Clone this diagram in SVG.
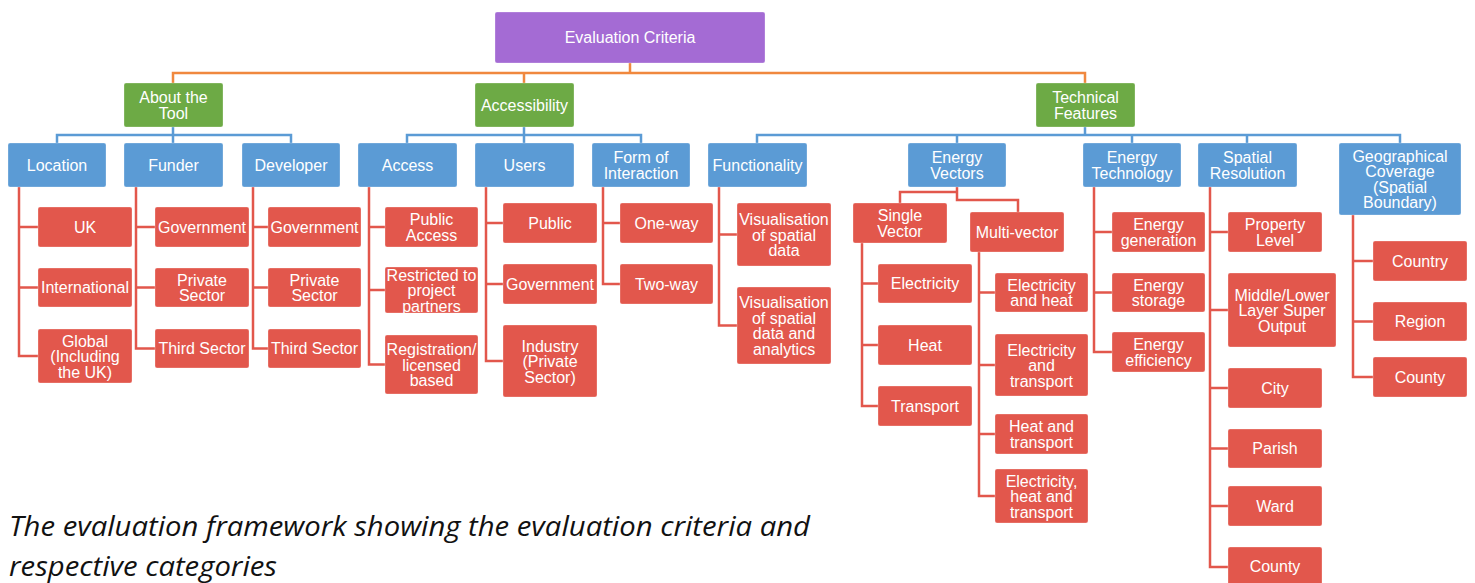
<svg xmlns="http://www.w3.org/2000/svg" width="1475" height="583" viewBox="0 0 1475 583">
  <style>
    .root { fill: #A46BD4; }
    .cat { fill: #6DAA45; }
    .sub { fill: #5B9BD5; }
    .leaf { fill: #E2574C; }
    .box { stroke-opacity: 0.35; stroke: #ffffff; stroke-width: 0.8; }
    .lbl { font-family: "Liberation Sans", Arial, sans-serif; font-size: 16px; fill: #ffffff; text-anchor: middle; dominant-baseline: central; }
    .c-top { fill: none; stroke: #F0883E; stroke-width: 2.5; }
    .c-mid { fill: none; stroke: #5B9BD5; stroke-width: 2.5; }
    .c-leaf { fill: none; stroke: #E2574C; stroke-width: 2.5; }
    .caption { font-family: "Open Sans", "Liberation Sans", sans-serif; font-style: italic; font-size: 27px; fill: #111111; }
  </style>

  <!-- connectors -->
  <g id="connectors">
    <path class="c-top" d="M630,63 V73 M173,83 V73 H1085 V83 M524,73 V83"/>
    <path class="c-mid" d="M173,127 V135 M57,143 V135 H291 V143 M173,135 V143"/>
    <path class="c-mid" d="M524,127 V135 M407,143 V135 H641 V143 M524,135 V143"/>
    <path class="c-mid" d="M1085,127 V135 M757,143 V135 H1400 V143 M957,135 V143 M1132,135 V143 M1247,135 V143"/>
    <!-- Energy Vectors split -->
    <path class="c-leaf" d="M957,187 V192 H900 V203 M957,192 V200 H1018 V212"/>
    <!-- Location -->
    <path class="c-leaf" d="M19,187 V356 H38 M19,227 H38 M19,287.5 H38"/>
    <!-- Funder -->
    <path class="c-leaf" d="M136,187 V348.5 H155 M136,227 H155 M136,287.5 H155"/>
    <!-- Developer -->
    <path class="c-leaf" d="M253,187 V348.5 H268 M253,227 H268 M253,287.5 H268"/>
    <!-- Access -->
    <path class="c-leaf" d="M369,187 V364.5 H385 M369,227 H385 M369,290 H385"/>
    <!-- Users -->
    <path class="c-leaf" d="M486,187 V361 H503 M486,223 H503 M486,284 H503"/>
    <!-- Form of Interaction -->
    <path class="c-leaf" d="M603,187 V284 H620 M603,223 H620"/>
    <!-- Functionality -->
    <path class="c-leaf" d="M719,187 V325.5 H737 M719,234.5 H737"/>
    <!-- Single Vector -->
    <path class="c-leaf" d="M862,243 V406 H878 M862,283.5 H878 M862,345 H878"/>
    <!-- Multi-vector -->
    <path class="c-leaf" d="M979,252 V496 H995 M979,292.5 H995 M979,365 H995 M979,434 H995"/>
    <!-- Energy Technology -->
    <path class="c-leaf" d="M1094,187 V352 H1112 M1094,232 H1112 M1094,292.5 H1112"/>
    <!-- Spatial Resolution -->
    <path class="c-leaf" d="M1210,187 V567 H1228 M1210,232 H1228 M1210,310 H1228 M1210,388 H1228 M1210,448.5 H1228 M1210,506 H1228"/>
    <!-- Geographical Coverage -->
    <path class="c-leaf" d="M1353,215 V377 H1373 M1353,261 H1373 M1353,321.5 H1373"/>
  </g>

  <!-- root -->
  <g id="evaluation-criteria">
    <rect class="root box" x="495" y="12" width="270" height="51" rx="2"/>
    <text class="lbl" x="630" y="37.5">Evaluation Criteria</text>
  </g>

  <!-- main categories -->
  <g id="about-the-tool">
    <rect class="cat box" x="124" y="83" width="99" height="44" rx="2"/>
    <text class="lbl"><tspan x="173.5" y="97.25">About the</tspan><tspan x="173.5" y="112.75">Tool</tspan></text>
  </g>
  <g id="accessibility">
    <rect class="cat box" x="475" y="83" width="99" height="44" rx="2"/>
    <text class="lbl" x="524.5" y="105">Accessibility</text>
  </g>
  <g id="technical-features">
    <rect class="cat box" x="1036" y="83" width="99" height="44" rx="2"/>
    <text class="lbl"><tspan x="1085.5" y="97.25">Technical</tspan><tspan x="1085.5" y="112.75">Features</tspan></text>
  </g>

  <!-- criteria -->
  <g id="location">
    <rect class="sub box" x="8" y="143" width="98" height="44" rx="2"/>
    <text class="lbl" x="57" y="165">Location</text>
  </g>
  <g id="funder">
    <rect class="sub box" x="124" y="143" width="99" height="44" rx="2"/>
    <text class="lbl" x="173.5" y="165">Funder</text>
  </g>
  <g id="developer">
    <rect class="sub box" x="242" y="143" width="98" height="44" rx="2"/>
    <text class="lbl" x="291" y="165">Developer</text>
  </g>
  <g id="access">
    <rect class="sub box" x="358" y="143" width="99" height="44" rx="2"/>
    <text class="lbl" x="407.5" y="165">Access</text>
  </g>
  <g id="users">
    <rect class="sub box" x="475" y="143" width="99" height="44" rx="2"/>
    <text class="lbl" x="524.5" y="165">Users</text>
  </g>
  <g id="form-of-interaction">
    <rect class="sub box" x="592" y="143" width="98" height="44" rx="2"/>
    <text class="lbl"><tspan x="641" y="157.25">Form of</tspan><tspan x="641" y="172.75">Interaction</tspan></text>
  </g>
  <g id="functionality">
    <rect class="sub box" x="708" y="143" width="99" height="44" rx="2"/>
    <text class="lbl" x="757.5" y="165">Functionality</text>
  </g>
  <g id="energy-vectors">
    <rect class="sub box" x="908" y="143" width="98" height="44" rx="2"/>
    <text class="lbl"><tspan x="957" y="157.25">Energy</tspan><tspan x="957" y="172.75">Vectors</tspan></text>
  </g>
  <g id="energy-technology">
    <rect class="sub box" x="1083" y="143" width="98" height="44" rx="2"/>
    <text class="lbl"><tspan x="1132" y="157.25">Energy</tspan><tspan x="1132" y="172.75">Technology</tspan></text>
  </g>
  <g id="spatial-resolution">
    <rect class="sub box" x="1198" y="143" width="99" height="44" rx="2"/>
    <text class="lbl"><tspan x="1247.5" y="157.25">Spatial</tspan><tspan x="1247.5" y="172.75">Resolution</tspan></text>
  </g>
  <g id="geographical-coverage">
    <rect class="sub box" x="1339" y="143" width="122" height="72" rx="2"/>
    <text class="lbl"><tspan x="1400" y="155.75">Geographical</tspan><tspan x="1400" y="171.25">Coverage</tspan><tspan x="1400" y="186.75">(Spatial</tspan><tspan x="1400" y="202.25">Boundary)</tspan></text>
  </g>

  <!-- Location categories -->
  <g id="loc-uk">
    <rect class="leaf box" x="38" y="207" width="94" height="40" rx="2"/>
    <text class="lbl" x="85" y="227">UK</text>
  </g>
  <g id="loc-international">
    <rect class="leaf box" x="38" y="268" width="94" height="39" rx="2"/>
    <text class="lbl" x="85" y="287.5">International</text>
  </g>
  <g id="loc-global">
    <rect class="leaf box" x="38" y="329" width="94" height="54" rx="2"/>
    <text class="lbl"><tspan x="85" y="340.5">Global</tspan><tspan x="85" y="356">(Including</tspan><tspan x="85" y="371.5">the UK)</tspan></text>
  </g>

  <!-- Funder categories -->
  <g id="fund-government">
    <rect class="leaf box" x="155" y="207" width="94" height="40" rx="2"/>
    <text class="lbl" x="202" y="227">Government</text>
  </g>
  <g id="fund-private">
    <rect class="leaf box" x="155" y="268" width="94" height="39" rx="2"/>
    <text class="lbl"><tspan x="202" y="279.75">Private</tspan><tspan x="202" y="295.25">Sector</tspan></text>
  </g>
  <g id="fund-third">
    <rect class="leaf box" x="155" y="329" width="94" height="39" rx="2"/>
    <text class="lbl" x="202" y="348.5">Third Sector</text>
  </g>

  <!-- Developer categories -->
  <g id="dev-government">
    <rect class="leaf box" x="268" y="207" width="93" height="40" rx="2"/>
    <text class="lbl" x="314.5" y="227">Government</text>
  </g>
  <g id="dev-private">
    <rect class="leaf box" x="268" y="268" width="93" height="39" rx="2"/>
    <text class="lbl"><tspan x="314.5" y="279.75">Private</tspan><tspan x="314.5" y="295.25">Sector</tspan></text>
  </g>
  <g id="dev-third">
    <rect class="leaf box" x="268" y="329" width="93" height="39" rx="2"/>
    <text class="lbl" x="314.5" y="348.5">Third Sector</text>
  </g>

  <!-- Access categories -->
  <g id="acc-public">
    <rect class="leaf box" x="385" y="207" width="93" height="40" rx="2"/>
    <text class="lbl"><tspan x="431.5" y="219.25">Public</tspan><tspan x="431.5" y="234.75">Access</tspan></text>
  </g>
  <g id="acc-restricted">
    <rect class="leaf box" x="385" y="267" width="93" height="46" rx="2"/>
    <text class="lbl"><tspan x="431.5" y="274.5">Restricted to</tspan><tspan x="431.5" y="290">project</tspan><tspan x="431.5" y="305.5">partners</tspan></text>
  </g>
  <g id="acc-registration">
    <rect class="leaf box" x="385" y="335" width="93" height="59" rx="2"/>
    <text class="lbl"><tspan x="431.5" y="349">Registration/</tspan><tspan x="431.5" y="364.5">licensed</tspan><tspan x="431.5" y="380">based</tspan></text>
  </g>

  <!-- Users categories -->
  <g id="usr-public">
    <rect class="leaf box" x="503" y="203" width="94" height="40" rx="2"/>
    <text class="lbl" x="550" y="223">Public</text>
  </g>
  <g id="usr-government">
    <rect class="leaf box" x="503" y="264" width="94" height="40" rx="2"/>
    <text class="lbl" x="550" y="284">Government</text>
  </g>
  <g id="usr-industry">
    <rect class="leaf box" x="503" y="325" width="94" height="72" rx="2"/>
    <text class="lbl"><tspan x="550" y="345.5">Industry</tspan><tspan x="550" y="361">(Private</tspan><tspan x="550" y="376.5">Sector)</tspan></text>
  </g>

  <!-- Form of Interaction categories -->
  <g id="form-one-way">
    <rect class="leaf box" x="620" y="203" width="93" height="40" rx="2"/>
    <text class="lbl" x="666.5" y="223">One-way</text>
  </g>
  <g id="form-two-way">
    <rect class="leaf box" x="620" y="264" width="93" height="40" rx="2"/>
    <text class="lbl" x="666.5" y="284">Two-way</text>
  </g>

  <!-- Functionality categories -->
  <g id="fn-vis-data">
    <rect class="leaf box" x="737" y="203" width="94" height="63" rx="2"/>
    <text class="lbl"><tspan x="784" y="219">Visualisation</tspan><tspan x="784" y="234.5">of spatial</tspan><tspan x="784" y="250">data</tspan></text>
  </g>
  <g id="fn-vis-analytics">
    <rect class="leaf box" x="737" y="287" width="94" height="77" rx="2"/>
    <text class="lbl"><tspan x="784" y="302.25">Visualisation</tspan><tspan x="784" y="317.75">of spatial</tspan><tspan x="784" y="333.25">data and</tspan><tspan x="784" y="348.75">analytics</tspan></text>
  </g>

  <!-- Energy Vectors categories -->
  <g id="ev-single">
    <rect class="leaf box" x="853" y="203" width="94" height="40" rx="2"/>
    <text class="lbl"><tspan x="900" y="215.25">Single</tspan><tspan x="900" y="230.75">Vector</tspan></text>
  </g>
  <g id="ev-multi">
    <rect class="leaf box" x="970" y="212" width="94" height="40" rx="2"/>
    <text class="lbl" x="1017" y="232">Multi-vector</text>
  </g>
  <g id="sv-electricity">
    <rect class="leaf box" x="878" y="264" width="94" height="39" rx="2"/>
    <text class="lbl" x="925" y="283.5">Electricity</text>
  </g>
  <g id="sv-heat">
    <rect class="leaf box" x="878" y="325" width="94" height="40" rx="2"/>
    <text class="lbl" x="925" y="345">Heat</text>
  </g>
  <g id="sv-transport">
    <rect class="leaf box" x="878" y="386" width="94" height="40" rx="2"/>
    <text class="lbl" x="925" y="406">Transport</text>
  </g>
  <g id="mv-elec-heat">
    <rect class="leaf box" x="995" y="273" width="93" height="39" rx="2"/>
    <text class="lbl"><tspan x="1041.5" y="284.75">Electricity</tspan><tspan x="1041.5" y="300.25">and heat</tspan></text>
  </g>
  <g id="mv-elec-transport">
    <rect class="leaf box" x="995" y="334" width="93" height="62" rx="2"/>
    <text class="lbl"><tspan x="1041.5" y="349.5">Electricity</tspan><tspan x="1041.5" y="365">and</tspan><tspan x="1041.5" y="380.5">transport</tspan></text>
  </g>
  <g id="mv-heat-transport">
    <rect class="leaf box" x="995" y="414" width="93" height="40" rx="2"/>
    <text class="lbl"><tspan x="1041.5" y="426.25">Heat and</tspan><tspan x="1041.5" y="441.75">transport</tspan></text>
  </g>
  <g id="mv-all">
    <rect class="leaf box" x="995" y="469" width="93" height="54" rx="2"/>
    <text class="lbl"><tspan x="1041.5" y="480.5">Electricity,</tspan><tspan x="1041.5" y="496">heat and</tspan><tspan x="1041.5" y="511.5">transport</tspan></text>
  </g>

  <!-- Energy Technology categories -->
  <g id="et-generation">
    <rect class="leaf box" x="1112" y="212" width="93" height="40" rx="2"/>
    <text class="lbl"><tspan x="1158.5" y="224.25">Energy</tspan><tspan x="1158.5" y="239.75">generation</tspan></text>
  </g>
  <g id="et-storage">
    <rect class="leaf box" x="1112" y="273" width="93" height="39" rx="2"/>
    <text class="lbl"><tspan x="1158.5" y="284.75">Energy</tspan><tspan x="1158.5" y="300.25">storage</tspan></text>
  </g>
  <g id="et-efficiency">
    <rect class="leaf box" x="1112" y="332" width="93" height="40" rx="2"/>
    <text class="lbl"><tspan x="1158.5" y="344.25">Energy</tspan><tspan x="1158.5" y="359.75">efficiency</tspan></text>
  </g>

  <!-- Spatial Resolution categories -->
  <g id="sr-property">
    <rect class="leaf box" x="1228" y="212" width="94" height="40" rx="2"/>
    <text class="lbl"><tspan x="1275" y="224.25">Property</tspan><tspan x="1275" y="239.75">Level</tspan></text>
  </g>
  <g id="sr-lsoa">
    <rect class="leaf box" x="1228" y="273" width="108" height="74" rx="2"/>
    <text class="lbl"><tspan x="1282" y="294.5">Middle/Lower</tspan><tspan x="1282" y="310">Layer Super</tspan><tspan x="1282" y="325.5">Output</tspan></text>
  </g>
  <g id="sr-city">
    <rect class="leaf box" x="1228" y="368" width="94" height="40" rx="2"/>
    <text class="lbl" x="1275" y="388">City</text>
  </g>
  <g id="sr-parish">
    <rect class="leaf box" x="1228" y="429" width="94" height="39" rx="2"/>
    <text class="lbl" x="1275" y="448.5">Parish</text>
  </g>
  <g id="sr-ward">
    <rect class="leaf box" x="1228" y="486" width="94" height="40" rx="2"/>
    <text class="lbl" x="1275" y="506">Ward</text>
  </g>
  <g id="sr-county">
    <rect class="leaf box" x="1228" y="547" width="94" height="40" rx="2"/>
    <text class="lbl" x="1275" y="566">County</text>
  </g>

  <!-- Geographical Coverage categories -->
  <g id="gc-country">
    <rect class="leaf box" x="1373" y="241" width="94" height="40" rx="2"/>
    <text class="lbl" x="1420" y="261">Country</text>
  </g>
  <g id="gc-region">
    <rect class="leaf box" x="1373" y="302" width="94" height="39" rx="2"/>
    <text class="lbl" x="1420" y="321.5">Region</text>
  </g>
  <g id="gc-county">
    <rect class="leaf box" x="1373" y="357" width="94" height="40" rx="2"/>
    <text class="lbl" x="1420" y="377">County</text>
  </g>

  <!-- caption -->
  <text class="caption" x="9" y="536" textLength="801" lengthAdjust="spacingAndGlyphs">The evaluation framework showing the evaluation criteria and</text>
  <text class="caption" x="9" y="576" textLength="268" lengthAdjust="spacingAndGlyphs">respective categories</text>
</svg>
